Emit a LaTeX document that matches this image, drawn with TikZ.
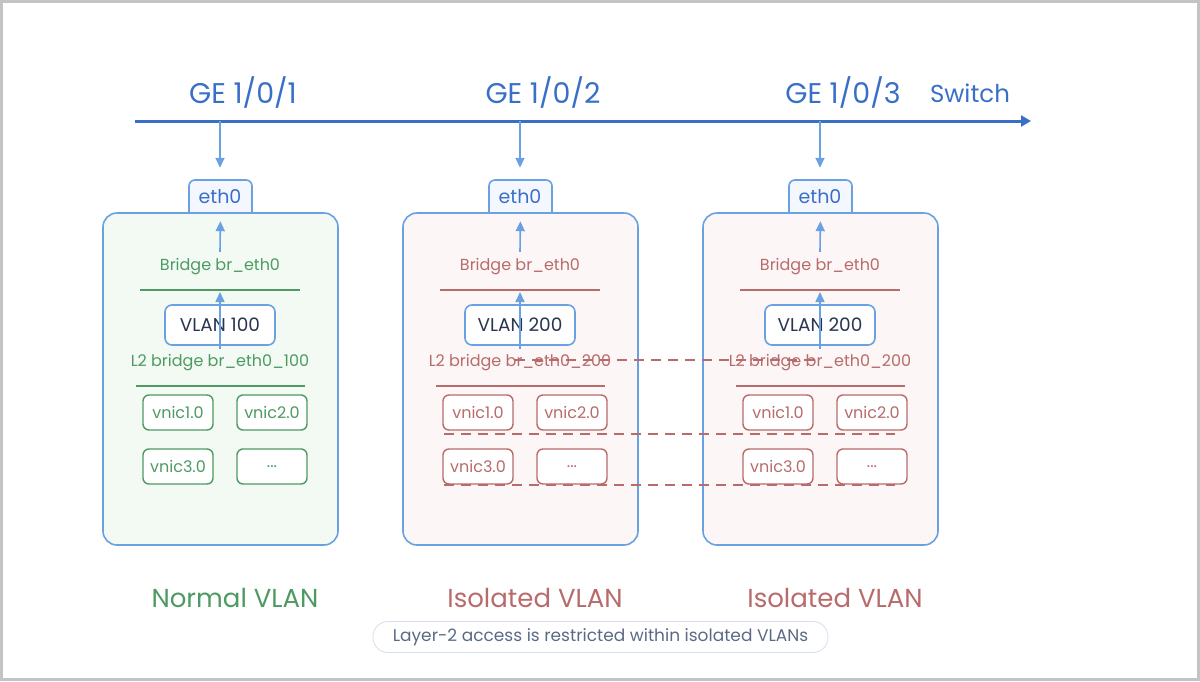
\documentclass[tikz,border=0pt]{standalone}
\usepackage{fontspec}
\setmainfont{Poppins}
\usetikzlibrary{arrows.meta}

\definecolor{swblue}{HTML}{3A6FC8}
\definecolor{linkblue}{HTML}{6AA1E3}
\definecolor{tabblue}{HTML}{F4F8FE}
\definecolor{okgreen}{HTML}{4E9A62}
\definecolor{podgreen}{HTML}{F2FAF3}
\definecolor{isored}{HTML}{B86B6B}
\definecolor{podpink}{HTML}{FDF6F6}
\definecolor{inkdark}{HTML}{2A3550}
\definecolor{notegray}{HTML}{5A6A85}
\definecolor{noteline}{HTML}{D3DFEA}
\definecolor{framegray}{HTML}{C4C4C4}

\tikzset{
  conn/.style={draw=linkblue, line width=1.6pt, -{Triangle[width=9pt,length=10pt]}},
  pod/.style={draw=linkblue, line width=1.6pt, rounded corners=14pt,
    minimum width=235pt, minimum height=332pt},
  vlanbox/.style={draw=linkblue, line width=1.6pt, fill=white, rounded corners=7pt,
    minimum width=110pt, minimum height=40pt, text=inkdark,
    font=\fontsize{18.5}{22}\selectfont},
  vnic/.style={draw=#1, line width=1.4pt, fill=white, rounded corners=6pt,
    minimum width=70pt, minimum height=35pt, text=#1,
    font=\fontsize{16}{19}\selectfont},
  lbl/.style={inner sep=0pt, font=\fontsize{16}{19}\selectfont},
  iso/.style={draw=isored, line width=1.6pt, dash pattern=on 10pt off 7pt},
}

\begin{document}
\begin{tikzpicture}[x=1pt, y=-1pt]
  \useasboundingbox (0,0) rectangle (1200,681);
  \draw[framegray, line width=3pt] (1.5,1.5) rectangle (1198.5,679.5);

  \coordinate (swL) at (135,121);
  \coordinate (swR) at (1031,121);
  \draw[swblue, line width=3pt, -{Triangle[width=11pt,length=10pt]}] (swL) -- (swR);
  \node[text=swblue, font=\fontsize{24.5}{28}\selectfont] (switch) at (970,93) {Switch};

  \foreach \i/\x/\tint/\ink/\vid/\name in {1/220/podgreen/okgreen/100/Normal VLAN,
      2/520/podpink/isored/200/Isolated VLAN, 3/820/podpink/isored/200/Isolated VLAN} {
    \node[text=swblue, font=\fontsize{28.5}{32}\selectfont] (port\i) at ({\x+23},92) {GE 1/0/\i};
    \coordinate (tap\i) at (\x,121);

    \filldraw[fill=tabblue, draw=linkblue, line width=1.6pt, rounded corners=6pt]
      ({\x-31},213) -- ({\x-31},180) -- ({\x+32},180) -- ({\x+32},213);
    \node[pod, fill=\tint] (box\i) at ({\x+0.5},379) {};
    \node[text=swblue, inner sep=0pt, minimum height=26pt,
      font=\fontsize{19}{22}\selectfont] (eth\i) at (\x,197) {eth0};
    \draw[conn, shorten >=16pt] (tap\i) -- (eth\i.north);

    \node[lbl, text=\ink, minimum height=30pt] (br\i) at (\x,267) {Bridge br\_eth0};
    \draw[conn, shorten >=9pt] (br\i.north) -- (box\i.north);
    \draw[\ink, line width=1.4pt] ({\x-80},290) -- ({\x+80},290);
    \coordinate (bus\i) at (\x,290);

    \node[vlanbox] (vlan\i) at (\x,325) {VLAN \vid};
    \draw[conn, shorten >=2pt] ([yshift=-3pt]vlan\i.south) -- (bus\i);

    \node[lbl, text=\ink] (l2\i) at (\x,363) {L2 bridge br\_eth0\_\vid};
    \draw[\ink, line width=1.4pt] ({\x-84},386) -- ({\x+85},386);

    \node[vnic=\ink] (va\i) at ({\x-42},412.5) {vnic1.0};
    \node[vnic=\ink] (vb\i) at ({\x+52},412.5) {vnic2.0};
    \node[vnic=\ink] (vc\i) at ({\x-42},466.5) {vnic3.0};
    \node[vnic=\ink] (vd\i) at ({\x+52},466.5) {...};

    \node[text=\ink, font=\fontsize{26}{30}\selectfont] (kind\i) at ({\x+15},598) {\name};
  }

  \coordinate (tieL) at (515,360);
  \coordinate (tieR) at (814,360);
  \draw[iso] (tieL) -- (tieR);
  \draw[iso] ([shift={(2pt,-3pt)}]va2.south west) -- ([shift={(-13pt,-3pt)}]vb3.south east);
  \draw[iso] ([shift={(2pt,0pt)}]vc2.south west) -- ([shift={(-13pt,0pt)}]vd3.south east);

  \node[draw=noteline, line width=0.8pt, rounded corners=15pt, minimum width=455pt,
    minimum height=31pt, text=notegray, font=\fontsize{17}{20}\selectfont]
    (note) at (600.5,637) {Layer-2 access is restricted within isolated VLANs};
\end{tikzpicture}
\end{document}
